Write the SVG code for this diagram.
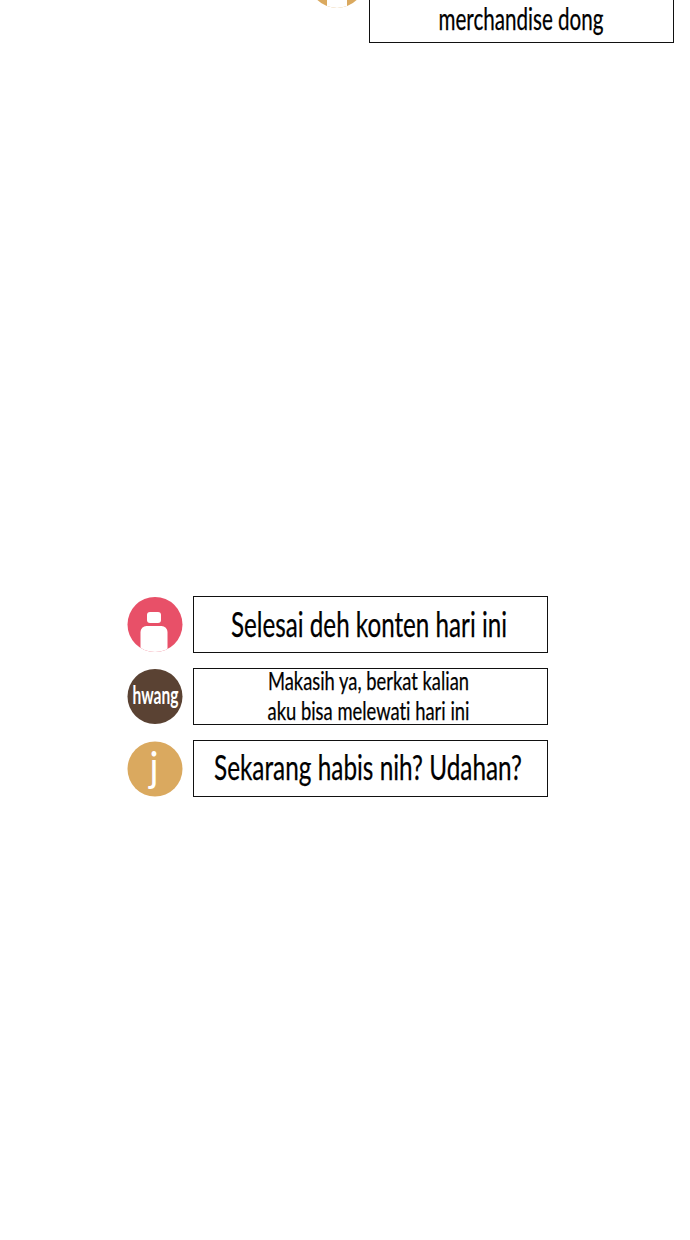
<svg xmlns="http://www.w3.org/2000/svg" width="690" height="1240" viewBox="0 0 690 1240">
<style>
.box{fill:#fff;stroke:#111;stroke-width:1}
.t{font-family:"Lato","Liberation Sans",sans-serif;fill:#000;stroke:#000;stroke-width:.25;text-anchor:middle;font-variant-ligatures:none}
.big{font-size:34px}
.mid{font-size:25px}
.top{font-size:31px}
.w{fill:#fff}
.gold{fill:#daa95f}
.a{font-family:"Lato","Liberation Sans",sans-serif;fill:#fff;text-anchor:middle}
</style>
<rect width="690" height="1240" fill="#fff"/>
<g id="node-top">
<clipPath id="c0"><circle cx="337" cy="-20" r="28"/></clipPath>
<circle class="gold" cx="337" cy="-20" r="28"/>
<rect class="w" x="327" y="-20" width="20" height="40" clip-path="url(#c0)"/>
<rect class="box" x="369.500" y="-20" width="304" height="62.500"/>
<text class="t top" x="521" y="30" textLength="165" lengthAdjust="spacingAndGlyphs">merchandise dong</text>
</g>
<g id="node-1">
<clipPath id="c1"><circle cx="155" cy="624.500" r="27.500"/></clipPath>
<circle cx="155" cy="624.500" r="27.500" fill="#e85068"/>
<rect class="w" x="147" y="612" width="14" height="11" rx="3"/>
<path class="w" d="M140.500 660V632a6 6 0 0 1 6-6h15a6 6 0 0 1 6 6V660Z" clip-path="url(#c1)"/>
<rect class="box" x="193.500" y="596.500" width="354" height="56"/>
<text class="t big" x="369" y="637" textLength="276" lengthAdjust="spacingAndGlyphs">Selesai deh konten hari ini</text>
</g>
<g id="node-2">
<circle cx="155" cy="696.500" r="27.500" fill="#5a4233"/>
<text class="a" x="155.500" y="704" font-weight="700" font-size="24" textLength="46" lengthAdjust="spacingAndGlyphs">hwang</text>
<rect class="box" x="193.500" y="668.500" width="354" height="56"/>
<text class="t mid" x="368.500" y="690" textLength="201" lengthAdjust="spacingAndGlyphs">Makasih ya, berkat kalian</text>
<text class="t mid" x="368.500" y="720" textLength="202" lengthAdjust="spacingAndGlyphs">aku bisa melewati hari ini</text>
</g>
<g id="node-3">
<circle class="gold" cx="155" cy="769" r="27.500"/>
<text class="a" x="154" y="782" font-size="42" textLength="9" lengthAdjust="spacingAndGlyphs">j</text>
<rect class="box" x="193.500" y="740.500" width="354" height="56"/>
<text class="t big" x="368" y="780" textLength="308" lengthAdjust="spacingAndGlyphs">Sekarang habis nih? Udahan?</text>
</g>
<g id="connectors"></g>
</svg>
